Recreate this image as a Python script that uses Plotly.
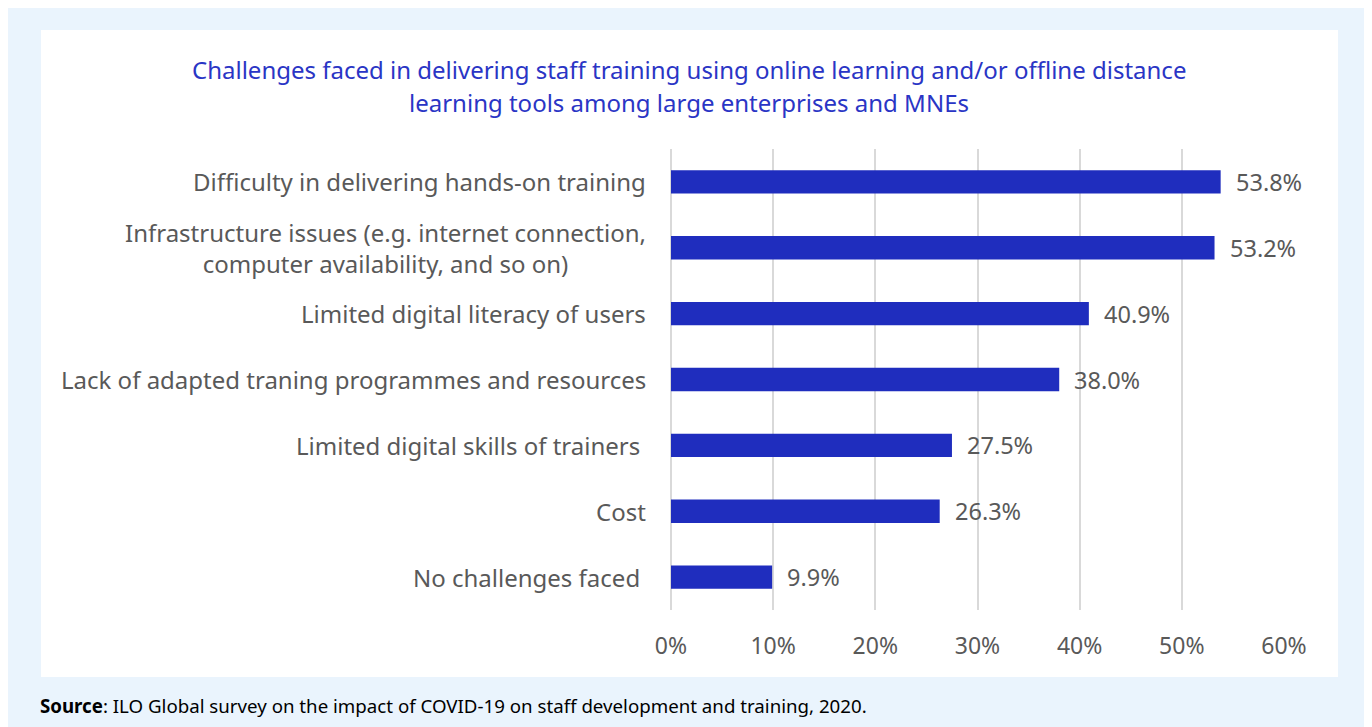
import plotly.graph_objects as go

# ---- data ----
categories = [
    "Difficulty in delivering hands-on training",
    "Infrastructure issues (e.g. internet connection,<br>computer availability, and so on)",
    "Limited digital literacy of users",
    "Lack of adapted traning programmes and resources",
    "Limited digital skills of trainers ",
    "Cost",
    "No challenges faced ",
]
values = [53.8, 53.2, 40.9, 38.0, 27.5, 26.3, 9.9]
x_tick_vals = [0, 10, 20, 30, 40, 50, 60]
x_tick_text = ["0%", "10%", "20%", "30%", "40%", "50%", "60%"]

title_lines = [
    "Challenges faced in delivering staff training using online learning and/or offline distance",
    "learning tools among large enterprises and MNEs",
]
source_text = "<b>Source</b>: ILO Global survey on the impact of COVID-19 on staff development and training, 2020."

# ---- style ----
FONT = "Noto Sans"
GREY = "#595959"
BLUE_BAR = "#1F2DBE"
BLUE_TITLE = "#2A35C5"
BG_OUTER = "#EAF4FD"
GRID = "#D9D9D9"

FIG_W, FIG_H = 1362, 720
L, T = 663, 141
PW, PH = 613, 461
R = FIG_W - L - PW
B = FIG_H - T - PH


def xp(fx):
    return (fx - L) / PW


def yp(fy):
    return 1 - (fy - T) / PH


fig = go.Figure()
fig.add_trace(go.Bar(
    x=values,
    y=categories,
    orientation="h",
    marker=dict(color=BLUE_BAR, line=dict(width=0)),
    width=0.355,
    hoverinfo="skip",
))

annotations = []
# category labels (centered multi-line)
for c in categories:
    txt = c.rstrip(" ")
    if c.endswith(" "):
        txt = txt + "\u00a0"
    annotations.append(dict(
        x=0, xref="paper", y=c, yref="y",
        text=txt, showarrow=False, xanchor="right", yanchor="middle",
        xshift=-23, align="center",
        font=dict(family=FONT, size=24, color=GREY),
    ))
# value labels
for c, v in zip(categories, values):
    annotations.append(dict(
        x=v, xref="x", y=c, yref="y",
        text=f"{v:.1f}%", showarrow=False, xanchor="left", yanchor="middle",
        xshift=13,
        font=dict(family=FONT, size=23.5, color=GREY),
    ))
# title lines (centered on the whole figure)
for line, fy in zip(title_lines, [62, 94]):
    annotations.append(dict(
        x=xp(FIG_W / 2), xref="paper", y=yp(fy), yref="paper",
        text=line, showarrow=False, xanchor="center", yanchor="middle",
        font=dict(family=FONT, size=24, color=BLUE_TITLE),
    ))
# source
annotations.append(dict(
    x=xp(30), xref="paper", y=yp(697), yref="paper",
    text=source_text, showarrow=False, xanchor="left", yanchor="middle",
    font=dict(family=FONT, size=18.7, color="#000000"),
))

shapes = [dict(
    type="rect", xref="paper", yref="paper",
    x0=xp(33), x1=xp(1330), y0=yp(669), y1=yp(22),
    fillcolor="white", line=dict(width=0), layer="below",
)]

fig.update_layout(
    width=FIG_W, height=FIG_H,
    margin=dict(l=L, r=R, t=T, b=B, pad=0),
    paper_bgcolor=BG_OUTER,
    plot_bgcolor="rgba(0,0,0,0)",
    showlegend=False,
    annotations=annotations,
    shapes=shapes,
    font=dict(family=FONT, color=GREY),
)
fig.update_xaxes(
    range=[0, 60], tickvals=x_tick_vals, ticktext=x_tick_text,
    showgrid=True, gridcolor=GRID, gridwidth=2,
    zeroline=True, zerolinecolor=GRID, zerolinewidth=2,
    showline=False, ticks="",
    ticklabelstandoff=20,
    tickfont=dict(family=FONT, size=23, color=GREY),
    fixedrange=True,
)
fig.update_yaxes(
    categoryorder="array", categoryarray=categories,
    autorange="reversed", showticklabels=False,
    showgrid=False, zeroline=False, showline=False, ticks="",
    fixedrange=True,
)

fig.write_html("out.html")
